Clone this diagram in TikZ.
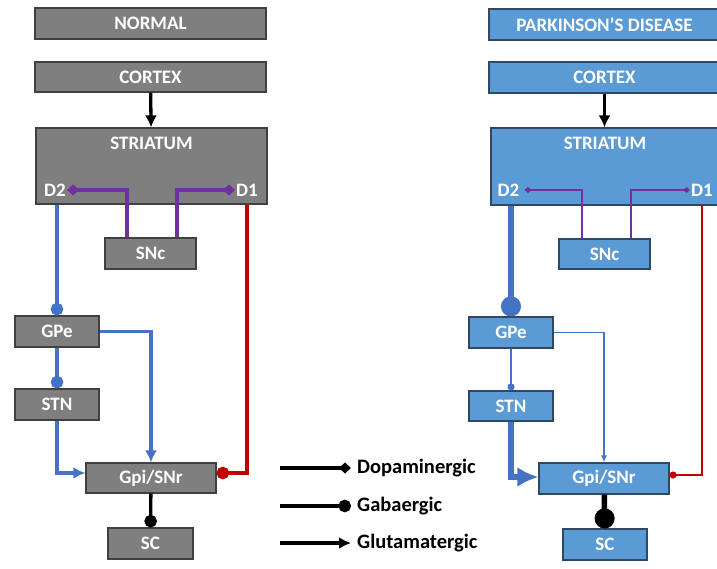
\documentclass[tikz,border=0pt]{standalone}
\usepackage{fontspec}
\setmainfont{Carlito}
\usetikzlibrary{arrows.meta}

\definecolor{boxgray}{RGB}{127,127,127}
\definecolor{edgegray}{RGB}{64,64,64}
\definecolor{boxblue}{RGB}{91,155,213}
\definecolor{edgeblue}{RGB}{47,72,100}
\definecolor{lineblue}{RGB}{68,114,196}
\definecolor{linered}{RGB}{192,0,0}
\definecolor{linepurple}{RGB}{112,48,160}

\begin{document}
\begin{tikzpicture}[x=1pt, y=-1pt,
  box/.style={line width=1.2pt, text=white, inner sep=0pt,
    font=\bfseries\fontsize{19}{21}\selectfont},
  grybox/.style={box, draw=edgegray, fill=boxgray},
  blubox/.style={box, draw=edgeblue, fill=boxblue},
  lbl/.style={text=white, inner sep=1pt, font=\bfseries\fontsize{19}{21}\selectfont},
  legtxt/.style={anchor=west, inner sep=6pt, font=\bfseries\fontsize{20.5}{22}\selectfont},
  % left panel (normal)
  glut/.style={line width=3.3pt, -{Latex[length=12pt,width=12pt]}},
  gaba/.style={line width=3.3pt, -{Circle[length=12.5pt]}},
  dopa/.style={line width=3.3pt, -{Diamond[length=12pt,width=11pt]}},
  % right panel (parkinson)
  glutthin/.style={line width=1.6pt, -{Latex[length=7pt,width=6pt]}},
  glutthick/.style={line width=5.5pt, -{Latex[length=21pt,width=20pt]}},
  gabathin/.style={line width=1.6pt, -{Circle[length=7pt]}},
  gabathick/.style={line width=5.5pt, -{Circle[length=20pt]}},
  dopathin/.style={line width=1.6pt, -{Diamond[length=7pt,width=6pt]}},
]
\useasboundingbox (0,0) rectangle (717,568);

% ---------------- NORMAL ----------------
\node[grybox, minimum width=231pt, minimum height=31pt] (normal) at (150.5,23.5) {NORMAL};
\node[grybox, minimum width=231pt, minimum height=30pt] (cortexL) at (150.5,77) {CORTEX};
\node[grybox, minimum width=231pt, minimum height=76pt] (striatumL) at (151.5,166) {};
\node[lbl] (stL) at (151.5,143) {STRIATUM};
\node[lbl] (d2L) at (55,190) {D2};
\node[lbl] (d1L) at (247,190) {D1};
\node[grybox, minimum width=91pt, minimum height=31pt] (sncL) at (150.5,253.5) {SNc};
\node[grybox, minimum width=84pt, minimum height=31pt] (gpeL) at (57,331.5) {GPe};
\node[grybox, minimum width=84pt, minimum height=31pt] (stnL) at (57,404.5) {STN};
\node[grybox, minimum width=130pt, minimum height=30pt] (gpiL) at (151,478) {Gpi/SNr};
\node[grybox, minimum width=85pt, minimum height=31pt] (scL) at (150.5,543.5) {SC};

\draw[glut] (cortexL) -- (striatumL);
\draw[dopa, linepurple] ([xshift=-23.5pt]sncL.north) |- (d2L.east);
\draw[dopa, linepurple] ([xshift=26.5pt]sncL.north) |- (d1L.west);
\draw[gaba, lineblue] (gpeL.north |- striatumL.south) -- (gpeL.north);
\draw[gaba, lineblue] (gpeL) -- (stnL);
\draw[glut, lineblue] (gpeL.east) -| (gpiL.north);
\draw[glut, lineblue] (stnL.south) |- ([yshift=5pt]gpiL.west);
\draw[gaba, linered] (d1L |- striatumL.south) |- ([yshift=5pt]gpiL.east);
\draw[gaba] (gpiL) -- (scL);

% ---------------- PARKINSON'S DISEASE ----------------
\node[blubox, minimum width=231pt, minimum height=31pt] (parkinson) at (604.5,24.5) {PARKINSON’S DISEASE};
\node[blubox, minimum width=231pt, minimum height=31pt] (cortexR) at (604.5,77.5) {CORTEX};
\node[blubox, minimum width=231pt, minimum height=77pt] (striatumR) at (606.5,166.5) {};
\node[lbl] (stR) at (605,143) {STRIATUM};
\node[lbl] (d2R) at (508.5,190) {D2};
\node[lbl] (d1R) at (702,190) {D1};
\node[blubox, minimum width=91pt, minimum height=30pt] (sncR) at (604.5,254) {SNc};
\node[blubox, minimum width=84pt, minimum height=31pt] (gpeR) at (511,332.5) {GPe};
\node[blubox, minimum width=84pt, minimum height=30pt] (stnR) at (511,406) {STN};
\node[blubox, minimum width=130pt, minimum height=31pt] (gpiR) at (604,478.5) {Gpi/SNr};
\node[blubox, minimum width=84pt, minimum height=31pt] (scR) at (605,544.5) {SC};

\draw[glut] (cortexR) -- (cortexR |- striatumR.north);
\draw[dopathin, linepurple] ([xshift=-22.5pt]sncR.north) |- ([xshift=4pt]d2R.east);
\draw[dopathin, linepurple] ([xshift=26.5pt]sncR.north) |- (d1R.west);
\draw[gabathick, lineblue] (gpeR.north |- striatumR.south) -- (gpeR.north);
\draw[gabathin, lineblue] (gpeR) -- (stnR);
\draw[glutthin, lineblue] (gpeR.east) -| (gpiR.north);
\draw[glutthick, lineblue] (stnR.south) |- ([yshift=1.5pt]gpiR.west);
\draw[gabathin, linered] (d1R |- striatumR.south) |- ([yshift=3.5pt]gpiR.east);
\draw[gabathick] (gpiR) -- (scR);

% ---------------- legend ----------------
\node[legtxt] (dopaT) at (351,468) {Dopaminergic};
\node[legtxt] (gabaT) at (351,506) {Gabaergic};
\node[legtxt] (glutT) at (351,543) {Glutamatergic};
\coordinate (dopaS) at (280,468);
\coordinate (gabaS) at (280,506);
\coordinate (glutS) at (280,543);
\draw[dopa] (dopaS) -- (dopaT.west);
\draw[gaba] (gabaS) -- (gabaT.west);
\draw[glut] (glutS) -- (glutT.west);
\end{tikzpicture}
\end{document}
